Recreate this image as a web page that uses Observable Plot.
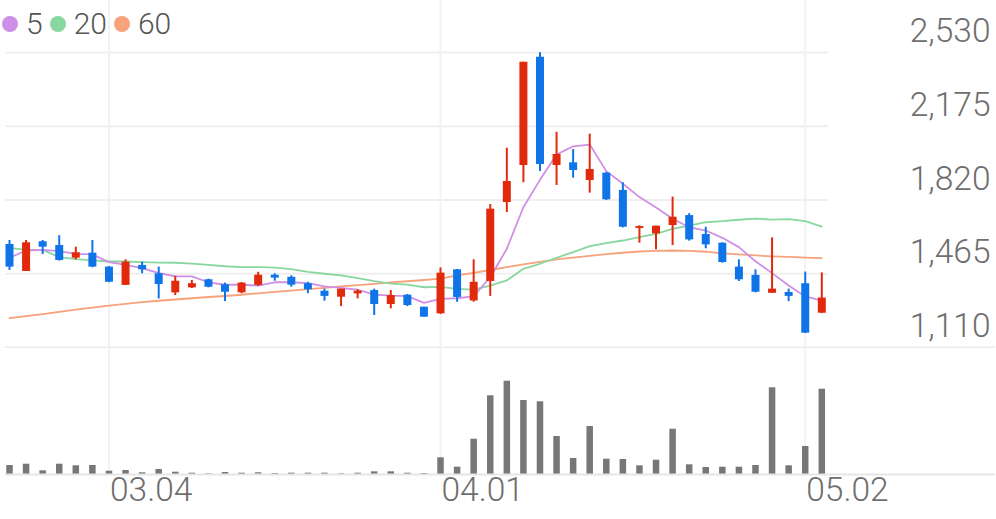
<!DOCTYPE html>
<html>
<head>
<meta charset="utf-8">
<script src="https://cdn.jsdelivr.net/npm/d3@7"></script>
<script src="https://cdn.jsdelivr.net/npm/@observablehq/plot@0.6"></script>
<style>
  html, body { margin: 0; padding: 0; background: #fff; }
  #wrap { position: relative; width: 996px; height: 519px; overflow: hidden; font-family: Roboto, sans-serif; }
  #price { position: absolute; left: 0; top: 0; }
  #vol { position: absolute; left: 0; top: 348px; }
  #legend { position: absolute; left: 2px; top: 8px; display: flex; align-items: center; font-size: 30px; font-weight: 300; color: #555; z-index: 2; line-height: 32px; }
  .item { display: flex; align-items: center; margin-right: 7px; }
  .sw { width: 16px; height: 16px; border-radius: 50%; display: inline-block; margin-right: 8px; }
</style>
</head>
<body>
<div id="wrap">
  <div id="legend"></div>
  <div id="price"></div>
  <div id="vol"></div>
</div>
<script>
// ---- data ----
const opens  = [1606,1476,1619,1601,1540,1564,1497,1409,1505,1465,1373,1397,1436,1412,1373,1409,1458,1448,1417,1381,1352,1368,1384,1317,1362,1304,1272,1484,1334,1428,1808,1986,2507,1986,1999,1914,1949,1866,1683,1657,1697,1745,1654,1612,1497,1457,1371,1375,1417,1275];
const highs  = [1625,1625,1625,1648,1593,1625,1500,1532,1521,1497,1452,1433,1439,1420,1423,1472,1465,1455,1424,1391,1391,1388,1391,1384,1365,1304,1493,1486,1532,1798,2069,2483,2529,2146,2063,2137,1952,1903,1696,1694,1834,1754,1689,1614,1532,1484,1638,1391,1473,1469];
const lows   = [1481,1476,1558,1526,1532,1494,1422,1409,1465,1344,1360,1394,1397,1331,1369,1404,1429,1400,1369,1333,1307,1344,1264,1296,1307,1256,1269,1328,1328,1356,1760,1903,1957,1890,1925,1853,1818,1686,1612,1580,1601,1622,1585,1516,1428,1373,1371,1331,1177,1274];
const closes = [1497,1614,1593,1529,1566,1497,1424,1521,1484,1413,1429,1417,1400,1376,1420,1458,1444,1410,1388,1356,1391,1381,1317,1360,1312,1256,1468,1351,1424,1776,1909,2483,1991,2039,1962,1967,1821,1689,1692,1694,1737,1628,1604,1519,1436,1376,1391,1356,1179,1348];
const volumes = [90000,103000,37000,103000,87000,90000,33000,40000,17000,50000,23000,13000,7000,20000,13000,17000,10000,13000,13000,13000,7000,13000,27000,27000,13000,10000,167000,73000,353000,787000,933000,740000,727000,380000,160000,480000,153000,150000,87000,143000,453000,97000,70000,73000,73000,90000,867000,87000,280000,853000];
const ma5  = [1542,1577,1580,1574,1561,1558,1521,1508,1492,1468,1453,1452,1424,1412,1412,1408,1424,1424,1420,1404,1397,1388,1365,1360,1357,1325,1344,1347,1356,1448,1585,1785,1917,2039,2078,2087,1959,1898,1834,1784,1730,1689,1673,1638,1593,1525,1468,1408,1356,1336];
const ma20 = [1590,1580,1580,1545,1535,1529,1524,1524,1521,1519,1518,1514,1508,1501,1497,1497,1494,1487,1474,1465,1457,1444,1429,1417,1413,1400,1402,1392,1389,1408,1433,1489,1513,1542,1569,1598,1612,1625,1641,1657,1681,1697,1713,1718,1725,1730,1726,1728,1718,1692];
const ma60 = [1251,1261,1271,1282,1292,1302,1312,1320,1328,1335,1341,1347,1353,1358,1364,1371,1378,1384,1391,1397,1404,1410,1416,1423,1429,1435,1442,1457,1469,1483,1497,1510,1522,1534,1543,1551,1559,1566,1572,1575,1577,1575,1571,1563,1558,1553,1549,1546,1543,1540];
const tickIdx = [6, 26, 48];
const tickLabels = ["03.04", "04.01", "05.02"];
const yTicks = [1110, 1465, 1820, 2175, 2530];
const maNames = ["5", "20", "60"];
const maColors = ["#d08fe6", "#88d79f", "#f6a27b"];

// ---- build table ----
const RED = "#e2290b", BLUE = "#0f74e8";
const candles = opens.map((o, i) => ({
  i, o, h: highs[i], l: lows[i], c: closes[i], v: volumes[i],
  ma5: ma5[i], ma20: ma20[i], ma60: ma60[i],
  col: closes[i] >= o ? RED : BLUE
}));

// ---- legend ----
const legend = document.getElementById("legend");
maNames.forEach((n, k) => {
  const it = document.createElement("div");
  it.className = "item";
  it.innerHTML = `<span class="sw" style="background:${maColors[k]}"></span><span>${n}</span>`;
  legend.appendChild(it);
});

const xScale = { domain: [0, opens.length - 1], range: [9, 821.3], axis: null };
const fmt = d3.format(",");
const AXIS_COLOR = "#6e6e6e";

const price = Plot.plot({
  width: 996, height: 348, margin: 0,
  x: xScale,
  y: { domain: [yTicks[0], yTicks[yTicks.length - 1]], range: [347, 52], axis: null },
  style: { background: "transparent", fontFamily: "Roboto, sans-serif" },
  marks: [
    Plot.ruleY(yTicks.slice(1), { stroke: "#efefef", strokeWidth: 2, insetLeft: 5, insetRight: 168 }),
    Plot.ruleY([yTicks[0]], { stroke: "#ebebeb", strokeWidth: 2, insetLeft: 5, insetRight: 1 }),
    Plot.ruleX(tickIdx, { stroke: "#f2f2f2", strokeWidth: 2 }),
    Plot.line(candles, { x: "i", y: "ma60", stroke: maColors[2], strokeWidth: 1.8 }),
    Plot.line(candles, { x: "i", y: "ma20", stroke: maColors[1], strokeWidth: 1.8 }),
    Plot.line(candles, { x: "i", y: "ma5", stroke: maColors[0], strokeWidth: 1.8 }),
    Plot.ruleX(candles, { x: "i", y1: "l", y2: "h", stroke: "col", strokeWidth: 2 }),
    Plot.ruleX(candles, { x: "i", y1: "o", y2: "c", stroke: "col", strokeWidth: 8 }),
    Plot.text(yTicks, { y: d => d, text: d => fmt(d), frameAnchor: "right", textAnchor: "end", dx: -6, dy: -21, fontSize: 33.5, fontWeight: 300, fill: AXIS_COLOR })
  ]
});
document.getElementById("price").appendChild(price);

const vol = Plot.plot({
  width: 996, height: 171, marginTop: 0, marginLeft: 0, marginRight: 0, marginBottom: 45,
  x: xScale,
  y: { domain: [0, 1260000], axis: null },
  style: { background: "transparent", fontFamily: "Roboto, sans-serif", overflow: "visible" },
  marks: [
    Plot.ruleX(tickIdx, { stroke: "#f2f2f2", strokeWidth: 2 }),
    Plot.ruleX(candles, { x: "i", y1: 0, y2: "v", stroke: "#777777", strokeWidth: 6.5 }),
    Plot.ruleY([0], { stroke: "#e6e6e6", strokeWidth: 2, insetLeft: 5, insetRight: 1 }),
    Plot.text(tickIdx, { x: d => d, text: (d, k) => tickLabels[k], frameAnchor: "bottom", textAnchor: "start", dx: 1, dy: 26, fontSize: 33.5, fontWeight: 300, fill: AXIS_COLOR })
  ]
});
document.getElementById("vol").appendChild(vol);
</script>
</body>
</html>
